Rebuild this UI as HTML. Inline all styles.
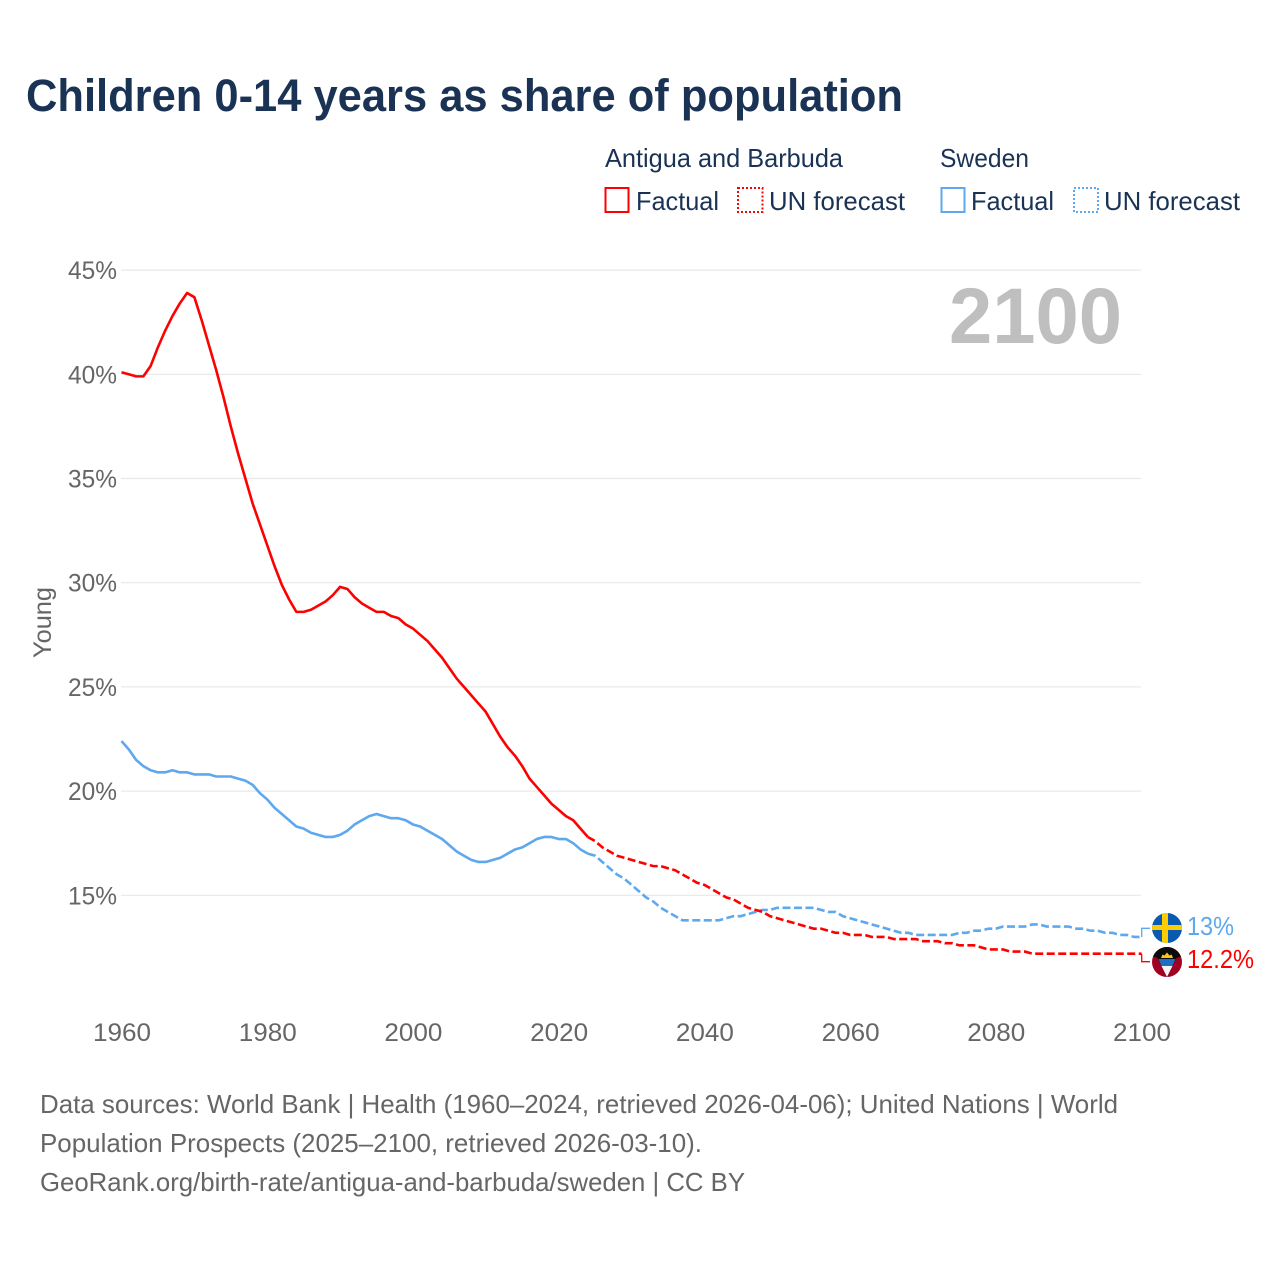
<!DOCTYPE html>
<html lang="en">
<head>
<meta charset="utf-8">
<title>Children 0-14 years as share of population</title>
<style>
html,body{margin:0;padding:0;background:#fff;width:1280px;height:1280px;overflow:hidden}
svg{display:block}
text{font-family:"Liberation Sans",sans-serif}
</style>
</head>
<body>
<svg id="chart" width="1280" height="1280" viewBox="0 0 1280 1280" xmlns="http://www.w3.org/2000/svg">
  <defs>
    <clipPath id="clip-se"><circle cx="1167" cy="928" r="15"/></clipPath>
    <clipPath id="clip-ag"><circle cx="1167" cy="962" r="15"/></clipPath>
  </defs>
  <rect width="1280" height="1280" fill="#fff"/>
  <text x="26" y="111" font-size="45" font-weight="700" fill="#1a3355" textLength="877" lengthAdjust="spacingAndGlyphs">Children 0-14 years as share of population</text>

  <g font-size="26" fill="#1a3355">
    <text x="605" y="167" textLength="238" lengthAdjust="spacingAndGlyphs">Antigua and Barbuda</text>
    <text x="940" y="167" textLength="89" lengthAdjust="spacingAndGlyphs">Sweden</text>
    <rect x="605.5" y="188" width="23" height="24" fill="none" stroke="#ff0000" stroke-width="2"/>
    <text x="636" y="210" textLength="83" lengthAdjust="spacingAndGlyphs">Factual</text>
    <rect x="738" y="188" width="24.5" height="24" fill="none" stroke="#ff0000" stroke-width="2" stroke-dasharray="2 2"/>
    <text x="769" y="210" textLength="136" lengthAdjust="spacingAndGlyphs">UN forecast</text>
    <rect x="941.5" y="188" width="23" height="24" fill="none" stroke="#5da8ee" stroke-width="2"/>
    <text x="971" y="210" textLength="83" lengthAdjust="spacingAndGlyphs">Factual</text>
    <rect x="1074" y="188" width="24" height="24" fill="none" stroke="#5da8ee" stroke-width="2" stroke-dasharray="2 2"/>
    <text x="1104" y="210" textLength="136" lengthAdjust="spacingAndGlyphs">UN forecast</text>
  </g>

  <g id="grid"></g>
  <g id="y-ticks"></g>
  <g id="x-ticks"></g>
  <text transform="translate(51,622.5) rotate(-90)" text-anchor="middle" font-size="25" fill="#666" textLength="71" lengthAdjust="spacingAndGlyphs">Young</text>

  <text x="949" y="343" font-size="79" font-weight="700" fill="#bfbfbf" textLength="173" lengthAdjust="spacingAndGlyphs">2100</text>

  <g id="series"></g>

  <g clip-path="url(#clip-se)">
    <rect x="1152" y="913" width="30" height="30" fill="#0a5bb0"/>
    <rect x="1162" y="913" width="6" height="30" fill="#fecc02"/>
    <rect x="1152" y="925" width="30" height="5" fill="#fecc02"/>
  </g>
  <g clip-path="url(#clip-ag)">
    <rect x="1152" y="947" width="30" height="30" fill="#a00022"/>
    <polygon points="1152,947 1182,947 1182,956 1176.5,958 1167,977 1157.5,958 1152,956" fill="#0b0b0b"/>
    <polygon points="1158.5,959 1175.5,959 1172.5,966 1161.5,966" fill="#1f6fc0"/>
    <polygon points="1161.5,966 1172.5,966 1167,977" fill="#f4f4f4"/>
    <polygon points="1161,958 1162.5,954.5 1164.5,955.5 1167,952.5 1169.5,955.5 1171.5,954.5 1173,958" fill="#fcc419"/>
  </g>

  <text x="1187" y="935" font-size="26" fill="#5da8ee" textLength="47" lengthAdjust="spacingAndGlyphs">13%</text>
  <text x="1187" y="968" font-size="26" fill="#ff0000" textLength="67" lengthAdjust="spacingAndGlyphs">12.2%</text>

  <g font-size="26" fill="#666">
    <text x="40" y="1113" textLength="1078" lengthAdjust="spacingAndGlyphs">Data sources: World Bank | Health (1960–2024, retrieved 2026-04-06); United Nations | World</text>
    <text x="40" y="1152" textLength="662" lengthAdjust="spacingAndGlyphs">Population Prospects (2025–2100, retrieved 2026-03-10).</text>
    <text x="40" y="1191" textLength="705" lengthAdjust="spacingAndGlyphs">GeoRank.org/birth-rate/antigua-and-barbuda/sweden | CC BY</text>
  </g>
</svg>
<script>
const firstYear = 1960;
const lastFactualYear = 2024;
const yTickValues = [15, 20, 25, 30, 35, 40, 45];
const yTickLabels = ["15%", "20%", "25%", "30%", "35%", "40%", "45%"];
const xTickLabels = ["1960", "1980", "2000", "2020", "2040", "2060", "2080", "2100"];
const antiguaValues = [
40.1,40.0,39.9,39.9,40.4,41.3,42.1,42.8,43.4,43.9,
43.7,42.6,41.4,40.2,38.9,37.5,36.2,35.0,33.8,32.8,
31.8,30.8,29.9,29.2,28.6,28.6,28.7,28.9,29.1,29.4,
29.8,29.7,29.3,29.0,28.8,28.6,28.6,28.4,28.3,28.0,
27.8,27.5,27.2,26.8,26.4,25.9,25.4,25.0,24.6,24.2,
23.8,23.2,22.6,22.1,21.7,21.2,20.6,20.2,19.8,19.4,
19.1,18.8,18.6,18.2,17.8,17.6,17.3,17.1,16.9,16.8,
16.7,16.6,16.5,16.4,16.4,16.3,16.2,16.0,15.8,15.6,
15.5,15.3,15.1,14.9,14.8,14.6,14.4,14.3,14.2,14.0,
13.9,13.8,13.7,13.6,13.5,13.4,13.4,13.3,13.2,13.2,
13.1,13.1,13.1,13.0,13.0,13.0,12.9,12.9,12.9,12.9,
12.8,12.8,12.8,12.7,12.7,12.6,12.6,12.6,12.5,12.4,
12.4,12.4,12.3,12.3,12.3,12.2,12.2,12.2,12.2,12.2,
12.2,12.2,12.2,12.2,12.2,12.2,12.2,12.2,12.2,12.2,12.2
];
const swedenValues = [
22.4,22.0,21.5,21.2,21.0,20.9,20.9,21.0,20.9,20.9,
20.8,20.8,20.8,20.7,20.7,20.7,20.6,20.5,20.3,19.9,
19.6,19.2,18.9,18.6,18.3,18.2,18.0,17.9,17.8,17.8,
17.9,18.1,18.4,18.6,18.8,18.9,18.8,18.7,18.7,18.6,
18.4,18.3,18.1,17.9,17.7,17.4,17.1,16.9,16.7,16.6,
16.6,16.7,16.8,17.0,17.2,17.3,17.5,17.7,17.8,17.8,
17.7,17.7,17.5,17.2,17.0,16.9,16.6,16.3,16.0,15.8,
15.5,15.2,14.9,14.7,14.4,14.2,14.0,13.8,13.8,13.8,
13.8,13.8,13.8,13.9,14.0,14.0,14.1,14.2,14.3,14.3,
14.4,14.4,14.4,14.4,14.4,14.4,14.3,14.2,14.2,14.0,
13.9,13.8,13.7,13.6,13.5,13.4,13.3,13.2,13.2,13.1,
13.1,13.1,13.1,13.1,13.1,13.2,13.2,13.3,13.3,13.4,
13.4,13.5,13.5,13.5,13.5,13.6,13.6,13.5,13.5,13.5,
13.5,13.4,13.4,13.3,13.3,13.2,13.2,13.1,13.1,13.0,13.0
];

const NS = "http://www.w3.org/2000/svg";
const xScale = function (year) { return 121.5 + (year - 1960) * 7.286; };
const yScale = function (pct) { return 895.3 - (pct - 15) * 20.84; };

const gridGroup = document.getElementById("grid");
const yTickGroup = document.getElementById("y-ticks");
const xTickGroup = document.getElementById("x-ticks");
const seriesGroup = document.getElementById("series");

yTickValues.forEach(function (v, i) {
  const line = document.createElementNS(NS, "line");
  
  
  line.setAttribute("x1", 121);
  line.setAttribute("x2", 1141);
  line.setAttribute("y1", yScale(v));
  line.setAttribute("y2", yScale(v));
  line.setAttribute("stroke", "#e8e8e8");
  line.setAttribute("stroke-width", 1.2);
  gridGroup.appendChild(line);

  const label = document.createElementNS(NS, "text");
  
  
  label.setAttribute("x", 117);
  label.setAttribute("y", yScale(v) + 9);
  label.setAttribute("text-anchor", "end");
  label.setAttribute("font-size", 25);
  label.setAttribute("fill", "#666");
  label.setAttribute("textLength", 49);
  label.setAttribute("lengthAdjust", "spacingAndGlyphs");
  label.textContent = yTickLabels[i];
  yTickGroup.appendChild(label);
});

xTickLabels.forEach(function (t) {
  const label = document.createElementNS(NS, "text");
  
  
  label.setAttribute("x", xScale(Number(t)) + 0.5);
  label.setAttribute("y", 1041);
  label.setAttribute("text-anchor", "middle");
  label.setAttribute("font-size", 25);
  label.setAttribute("fill", "#666");
  label.setAttribute("textLength", 58);
  label.setAttribute("lengthAdjust", "spacingAndGlyphs");
  label.textContent = t;
  xTickGroup.appendChild(label);
});

function pathFor(values, from, to) {
  let d = "";
  values.forEach(function (v, i) {
    const year = firstYear + i;
    if (year < from || year > to) return;
    d += (d ? "L" : "M") + xScale(year).toFixed(2) + " " + yScale(v).toFixed(2);
  });
  return d;
}

function drawSeries(values, color, key) {
  const lastYear = firstYear + values.length - 1;

  const solid = document.createElementNS(NS, "path");
  
  
  solid.setAttribute("d", pathFor(values, firstYear, lastFactualYear));
  solid.setAttribute("fill", "none");
  solid.setAttribute("stroke", color);
  solid.setAttribute("stroke-width", 2.6);
  solid.setAttribute("stroke-linejoin", "round");
  solid.setAttribute("data-series", key);
  seriesGroup.appendChild(solid);

  const dashed = document.createElementNS(NS, "path");
  
  
  dashed.setAttribute("d", pathFor(values, lastFactualYear, lastYear));
  dashed.setAttribute("fill", "none");
  dashed.setAttribute("stroke", color);
  dashed.setAttribute("stroke-width", 2.6);
  dashed.setAttribute("stroke-dasharray", "8 3.5");
  dashed.setAttribute("data-series", key);
  seriesGroup.appendChild(dashed);

  return yScale(values[values.length - 1]);
}

const swedenEnd = drawSeries(swedenValues, "#5da8ee", "sweden");
const antiguaEnd = drawSeries(antiguaValues, "#ff0000", "antigua");

const swedenLeader = document.createElementNS(NS, "path");


swedenLeader.setAttribute("d", "M1141.7 " + swedenEnd.toFixed(1) + "V928.3H1150");
swedenLeader.setAttribute("fill", "none");
swedenLeader.setAttribute("stroke", "#5da8ee");
swedenLeader.setAttribute("stroke-width", 1.3);
seriesGroup.appendChild(swedenLeader);

const antiguaLeader = document.createElementNS(NS, "path");


antiguaLeader.setAttribute("d", "M1141.7 " + antiguaEnd.toFixed(1) + "V961.7H1150");
antiguaLeader.setAttribute("fill", "none");
antiguaLeader.setAttribute("stroke", "#ff0000");
antiguaLeader.setAttribute("stroke-width", 1.3);
seriesGroup.appendChild(antiguaLeader);
</script>
</body>
</html>
